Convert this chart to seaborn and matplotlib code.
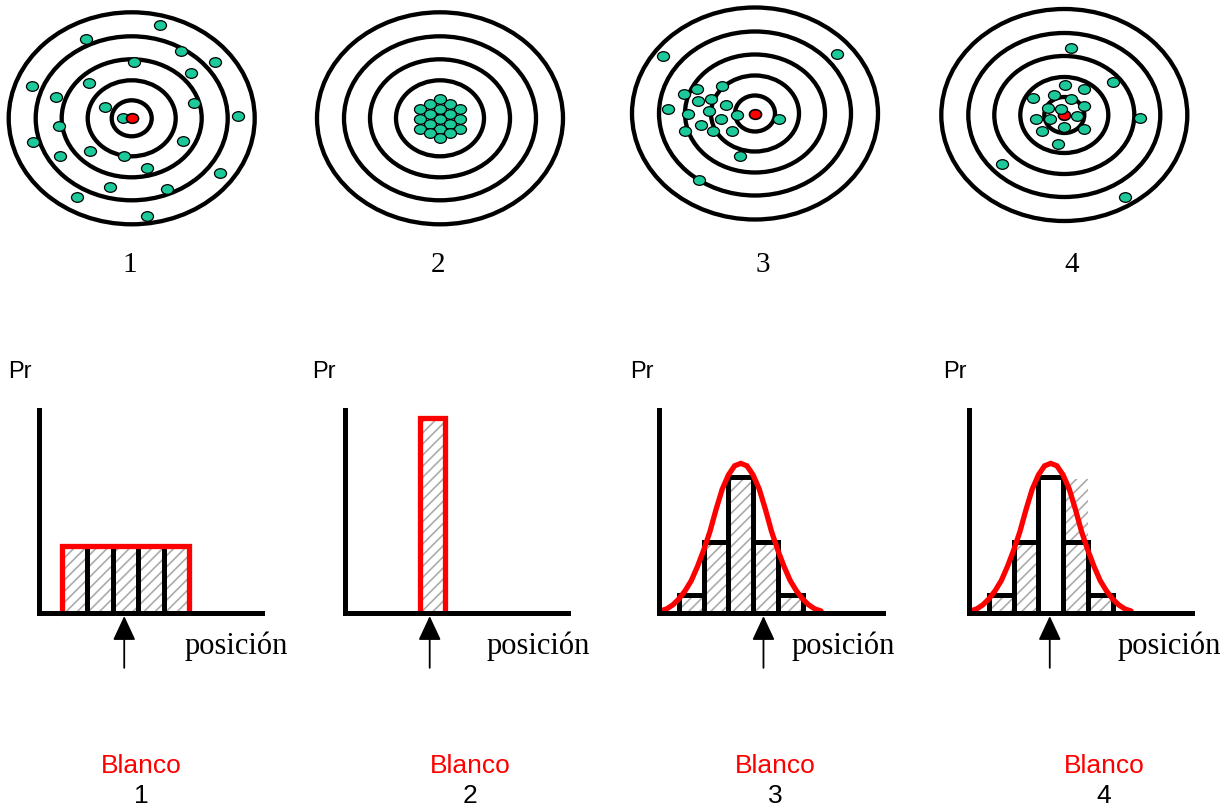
import matplotlib
matplotlib.use('Agg')
import matplotlib.pyplot as plt
import seaborn as sns
from matplotlib.patches import Ellipse
from matplotlib.path import Path
from matplotlib.transforms import Affine2D

sns.set_style('white')
plt.rcParams['font.family'] = ['Liberation Sans', 'DejaVu Sans']
plt.rcParams['text.color'] = 'black'
plt.rcParams['hatch.linewidth'] = 1.2

W, H = 1232, 806
GREEN = '#1CC99A'
RED = '#FF0000'
HATCH_GRAY = '#ABABAB'

# ---------------- data: targets ----------------
target_labels = ['1', '2', '3', '4']
ring_a = [123, 96, 70, 44, 20]
ring_b = [106, 82, 59, 38, 18]
rings_per_target = [5, 4, 5, 5]

shots1_x = [28.3, -45.7, 49, 83.3, 2.7, 59, -100, -42.7, -76, 62.3, -26.7, 106, -8.3,
            -72.7, -98.3, 51.7, -71.7, -41.7, -7.3, 15.7, 88.3, -21.7, 35.7, -55, 15]
shots1_y = [93.3, 79, 67.7, 56.7, 56.7, 45.7, 32.7, 35, 21.7, 15, 11.7, 2.3, 0.7,
            -7.7, -23.3, -22.7, -37.3, -32.7, -37.3, -50, -54.3, -69, -71, -79, -97.7]

shots2_x = [-10, 10, -20, 0, 20, -10, 10, -20, 0, 20, -10, 10, -20, 0, 20, -10, 10, 0, 0]
shots2_y = [14.5, 14.5, 9.5, 9.5, 9.5, 4.5, 4.5, -0.5, -0.5, -0.5, -5.5, -5.5,
            -10.5, -10.5, -10.5, -15, -15, -19.5, 19.5]

shots3_x = [-91.7, 81.7, -70.7, -57.7, -33.3, -57.3, -44.3, -86.7, -29.3, -67.3,
            -46, -18.3, -34.3, 24, -54, -69.7, -41.7, -22.7, -15, -56]
shots3_y = [57.3, 59.3, 19.3, 24.7, 27.3, 12.7, 14.7, 5, 8.3, -0.7,
            2.7, -1.3, -5.7, -5.3, -11, -17.3, -17.3, -17.3, -42.3, -66]

shots4_x = [6.3, 48.3, 0.7, 19.7, -10, -31, 6.7, -16.7, -3.3, 19.7,
            -28.3, -14.3, 12.3, 75.7, 0, -22.3, 19.7, -6, -62.7, 60.7]
shots4_y = [66.7, 33, 30, 26, 20.3, 16.7, 16, 7.3, 6.3, 9.3,
            -4, -3.7, -1, -3, -12.3, -15.7, -14.3, -29.3, -49, -81.7]

shots_x = [shots1_x, shots2_x, shots3_x, shots4_x]
shots_y = [shots1_y, shots2_y, shots3_y, shots4_y]
bullseye_on_top = [True, False, True, False]

# ---------------- data: histograms ----------------
bins5 = [0, 1, 2, 3, 4]
bins1 = [0]
pr1 = [0.33, 0.33, 0.33, 0.33, 0.33]
pr2 = [0.963]
pr3 = [0.089, 0.348, 0.67, 0.348, 0.089]
pr4 = [0.089, 0.348, 0.67, 0.348, 0.089]
pr4_hatch = [0.089, 0.348, 0.0, 0.66, 0.089]

curve1_x = [-0.5, -0.5, 4.5, 4.5]
curve1_y = [0, 0.33, 0.33, 0]
curve2_x = [-0.5, -0.5, 0.5, 0.5]
curve2_y = [0, 0.963, 0.963, 0]
gauss_x = [-1.25, -1.0, -0.75, -0.5, -0.25, 0.0, 0.25, 0.5, 0.75, 1.0, 1.25, 1.5, 1.75, 2.0,
           2.25, 2.5, 2.75, 3.0, 3.25, 3.5, 3.75, 4.0, 4.25, 4.5, 4.75, 5.0, 5.25]
gauss_y = [0.01, 0.02, 0.04, 0.07, 0.11, 0.16, 0.23, 0.31, 0.40, 0.51, 0.61, 0.68, 0.725, 0.737,
           0.725, 0.68, 0.61, 0.51, 0.40, 0.31, 0.23, 0.16, 0.11, 0.07, 0.04, 0.02, 0.01]

true_pos = [1.95, -0.1, 2.92, 1.96]
hist_bins = [bins5, bins1, bins5, bins5]
hist_pr = [pr1, pr2, pr3, pr4]
hist_fill = [pr1, pr2, pr3, pr4_hatch]
hist_cx = [curve1_x, curve2_x, gauss_x, gauss_x]
hist_cy = [curve1_y, curve2_y, gauss_y, gauss_y]
hist_edge_lw = [3.6, 1.5, 3.6, 3.6]

# ---------------- layout (pixels) ----------------
target_centers = [(131.7, 118.3), (440, 118.3), (755, 113.5), (1064.3, 115)]
target_num_x = [130, 438, 763, 1072]
spine_x = [39, 345, 659, 969]
axis_right = [262, 568, 883, 1192]
first_edge = [62, 419.5, 679, 989]
bar_unit = [25.4, 25.5, 24.7, 24.7]
axis_top, axis_bottom = 410, 613
pr_x = [8, 312, 630, 943]
pos_x = [185, 487, 792, 1118]
blanco_x = [141, 470, 775, 1104]

fig = plt.figure(figsize=(W / 100, H / 100), dpi=100)

dot = Path.unit_circle().transformed(Affine2D().scale(1.0, 0.8))

for i in range(4):
    cx, cy = target_centers[i]
    ax = fig.add_axes([(cx - 130) / W, 1 - (cy + 120) / H, 260 / W, 240 / H])
    for a, b in list(zip(ring_a, ring_b))[:rings_per_target[i]]:
        ax.add_patch(Ellipse((0, 0), 2 * a, 2 * b, fill=False, lw=3.1, ec='black', zorder=1))
    z_red = 4 if bullseye_on_top[i] else 2
    sns.scatterplot(x=[0], y=[0], ax=ax, marker=dot, s=75, color=RED,
                    edgecolor='black', linewidth=1.2, zorder=z_red)
    sns.scatterplot(x=shots_x[i], y=shots_y[i], ax=ax, marker=dot, s=75, color=GREEN,
                    edgecolor='black', linewidth=0.9, zorder=3)
    ax.set_xlim(-130, 130)
    ax.set_ylim(-120, 120)
    ax.axis('off')
    fig.text(target_num_x[i] / W, 1 - 272 / H, target_labels[i], ha='center', va='baseline',
             fontsize=21, family=['Liberation Serif', 'DejaVu Serif'])

for i in range(4):
    left, right = spine_x[i], axis_right[i]
    ax = fig.add_axes([left / W, 1 - axis_bottom / H, (right - left) / W,
                       (axis_bottom - axis_top) / H])
    sns.barplot(x=hist_bins[i], y=hist_fill[i], ax=ax, color='white', edgecolor=HATCH_GRAY,
                linewidth=0, hatch='///', width=1, errorbar=None, saturation=1)
    sns.barplot(x=hist_bins[i], y=hist_pr[i], ax=ax, color='black', fill=False,
                linewidth=hist_edge_lw[i], width=1, errorbar=None, saturation=1)
    sns.lineplot(x=hist_cx[i], y=hist_cy[i], ax=ax, sort=False, estimator=None,
                 color=RED, lw=3.8, legend=False)
    for ln in ax.lines:
        ln.set_solid_joinstyle('miter')
        ln.set_clip_on(False)
        ln.set_zorder(2.2)
    x0 = -0.5 - (first_edge[i] - left) / bar_unit[i]
    ax.set_xlim(x0, x0 + (right - left) / bar_unit[i])
    ax.set_ylim(0, 1)
    ax.set_xticks([])
    ax.set_yticks([])
    ax.set_xlabel('')
    ax.set_ylabel('')
    ax.set_facecolor('none')
    for side in ['top', 'right']:
        ax.spines[side].set_visible(False)
    for side in ['left', 'bottom']:
        ax.spines[side].set_linewidth(3.6)
        ax.spines[side].set_color('black')
        ax.spines[side].set_zorder(3)
    ax.annotate('', xy=(true_pos[i], -0.015), xytext=(true_pos[i], -0.27),
                xycoords=('data', 'axes fraction'), textcoords=('data', 'axes fraction'),
                arrowprops=dict(arrowstyle='-|>,head_length=0.75,head_width=0.35',
                                mutation_scale=20, color='black', lw=1.3,
                                shrinkA=0, shrinkB=0))

    fig.text(pr_x[i] / W, 1 - 378 / H, 'Pr', ha='left', va='baseline', fontsize=17)
    fig.text(pos_x[i] / W, 1 - 654 / H, 'posición', ha='left', va='baseline', fontsize=22,
             family=['Liberation Serif', 'DejaVu Serif'])
    fig.text(blanco_x[i] / W, 1 - 773 / H, 'Blanco', ha='center', va='baseline',
             fontsize=19, color=RED)
    fig.text(blanco_x[i] / W, 1 - 803 / H, target_labels[i], ha='center', va='baseline',
             fontsize=19, color='black')

fig.savefig('out.png', dpi=100, facecolor='white')
